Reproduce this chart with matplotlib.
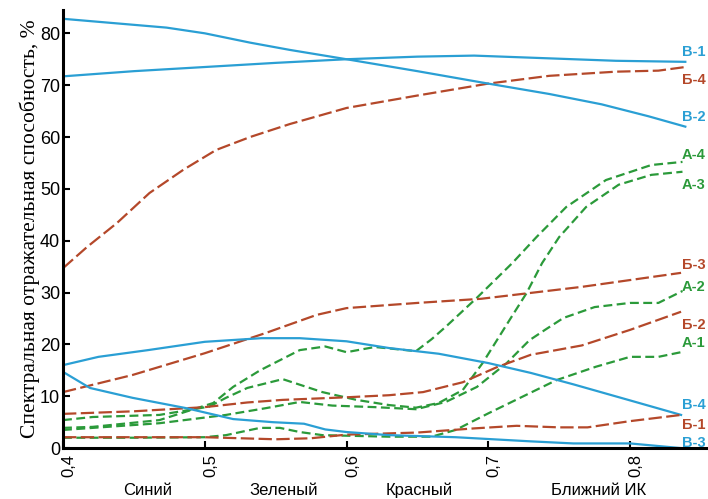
import numpy as np
import matplotlib.pyplot as plt
import matplotlib.transforms as mtransforms

plt.rcParams['font.family'] = ['Liberation Sans', 'DejaVu Sans']

# --- data (wavelength, um / reflectance, %) ---
a1_x = [0.40, 0.45, 0.50, 0.515, 0.539, 0.553, 0.567, 0.583, 0.63, 0.66, 0.677, 0.70, 0.724, 0.748, 0.776, 0.80, 0.82, 0.836]
a1_y = [2.0, 2.0, 2.1, 2.5, 3.9, 3.9, 3.1, 2.5, 2.2, 2.2, 3.5, 6.7, 9.9, 13.1, 15.7, 17.6, 17.6, 18.5]

a2_x = [0.40, 0.421, 0.468, 0.515, 0.543, 0.567, 0.59, 0.62, 0.649, 0.67, 0.692, 0.713, 0.729, 0.74, 0.753, 0.775, 0.80, 0.82, 0.837]
a2_y = [3.5, 3.9, 4.8, 6.4, 7.7, 8.9, 8.2, 7.9, 7.5, 8.9, 11.8, 16.4, 20.8, 22.8, 25.1, 27.2, 28.0, 28.0, 30.3]

a3_x = [0.40, 0.421, 0.468, 0.503, 0.515, 0.53, 0.555, 0.583, 0.607, 0.63, 0.649, 0.665, 0.682, 0.696, 0.715, 0.727, 0.738, 0.75, 0.769, 0.792, 0.815, 0.837]
a3_y = [5.4, 6.0, 6.4, 8.0, 9.7, 11.6, 13.3, 10.8, 9.3, 8.3, 7.8, 8.7, 11.2, 16.4, 24.7, 29.9, 35.7, 40.7, 46.5, 50.8, 52.7, 53.3]

a4_x = [0.40, 0.421, 0.468, 0.506, 0.52, 0.539, 0.567, 0.585, 0.60, 0.62, 0.649, 0.66, 0.67, 0.692, 0.717, 0.734, 0.755, 0.783, 0.815, 0.837]
a4_y = [3.9, 4.1, 5.4, 8.7, 11.8, 15.0, 18.9, 19.6, 18.5, 19.5, 18.7, 21.0, 23.4, 29.0, 35.7, 40.7, 46.5, 51.7, 54.6, 55.2]

b1_x = [0.40, 0.45, 0.50, 0.55, 0.575, 0.60, 0.65, 0.69, 0.72, 0.75, 0.77, 0.80, 0.836]
b1_y = [2.1, 2.1, 2.1, 1.7, 1.9, 2.6, 3.0, 3.8, 4.3, 4.0, 4.0, 5.2, 6.4]

b2_x = [0.40, 0.45, 0.50, 0.53, 0.555, 0.60, 0.63, 0.654, 0.682, 0.706, 0.73, 0.766, 0.80, 0.836]
b2_y = [6.6, 7.1, 7.9, 8.8, 9.3, 9.8, 10.2, 10.8, 12.7, 15.6, 18.0, 19.8, 22.8, 26.3]

b3_x = [0.40, 0.449, 0.50, 0.543, 0.579, 0.60, 0.65, 0.695, 0.766, 0.836]
b3_y = [10.8, 14.1, 18.3, 22.2, 25.7, 27.0, 28.0, 28.8, 31.1, 33.8]

b4_x = [0.40, 0.417, 0.438, 0.461, 0.485, 0.508, 0.532, 0.56, 0.60, 0.65, 0.70, 0.743, 0.79, 0.82, 0.839]
b4_y = [34.7, 38.8, 43.4, 49.2, 53.7, 57.5, 60.0, 62.5, 65.6, 68.0, 70.3, 71.8, 72.6, 72.8, 73.5]

v1_x = [0.40, 0.45, 0.50, 0.55, 0.60, 0.65, 0.69, 0.74, 0.79, 0.839]
v1_y = [71.7, 72.7, 73.5, 74.3, 75.0, 75.5, 75.7, 75.2, 74.7, 74.5]

v2_x = [0.40, 0.473, 0.50, 0.532, 0.56, 0.60, 0.65, 0.70, 0.743, 0.78, 0.813, 0.839]
v2_y = [82.8, 81.1, 80.0, 78.2, 76.8, 75.0, 72.7, 70.3, 68.3, 66.3, 64.0, 62.0]

v3_x = [0.40, 0.419, 0.449, 0.487, 0.52, 0.548, 0.57, 0.585, 0.60, 0.63, 0.677, 0.73, 0.76, 0.80, 0.836]
v3_y = [14.7, 11.6, 9.7, 7.7, 5.6, 5.0, 4.7, 3.6, 3.1, 2.5, 2.1, 1.3, 0.9, 0.9, 0.0]

v4_x = [0.40, 0.425, 0.46, 0.50, 0.54, 0.567, 0.60, 0.63, 0.665, 0.70, 0.73, 0.76, 0.80, 0.836]
v4_y = [16.0, 17.6, 18.9, 20.5, 21.2, 21.2, 20.6, 19.3, 18.2, 16.4, 14.5, 12.3, 9.2, 6.4]

names = ['В-1', 'Б-4', 'В-2', 'А-4', 'А-3', 'Б-3', 'А-2', 'Б-2', 'А-1', 'В-4', 'Б-1', 'В-3']

xticks = [0.4, 0.5, 0.6, 0.7, 0.8]
xtick_labels = ['0,4', '0,5', '0,6', '0,7', '0,8']
yticks = [0, 10, 20, 30, 40, 50, 60, 70, 80]

bands = ['Синий', 'Зеленый', 'Красный', 'Ближний ИК']

blue = '#2a9fd4'
brown = '#b4482a'
green = '#2b9a3a'

fig = plt.figure(figsize=(7.08, 4.99), dpi=100)
ax = fig.add_axes([0.089, 0.102, 0.911, 0.878])

long_dash = (0, (6, 2))
short_dash = (0, (4, 2))

lines = [(v1_x, v1_y, blue, '-'), (b4_x, b4_y, brown, long_dash), (v2_x, v2_y, blue, '-'),
         (a4_x, a4_y, green, short_dash), (a3_x, a3_y, green, short_dash),
         (b3_x, b3_y, brown, long_dash), (a2_x, a2_y, green, short_dash),
         (b2_x, b2_y, brown, long_dash), (a1_x, a1_y, green, short_dash),
         (v4_x, v4_y, blue, '-'), (b1_x, b1_y, brown, long_dash), (v3_x, v3_y, blue, '-')]

# label centres at the right edge (y in data units)
label_pos = [76.4, 71.0, 63.9, 56.6, 50.8, 35.3, 31.1, 23.7, 20.3, 8.3, 4.4, 1.0]

for name, (xs, ys, col, ls), ly in zip(names, lines, label_pos):
    ax.plot(xs, ys, color=col, linestyle=ls, linewidth=1.6)
    ax.text(0.8365, ly, name, color=col, fontsize=10.5, fontweight='bold',
            ha='left', va='center', clip_on=False)

ax.set_xlim(0.4, 0.855)
ax.set_ylim(0, 84.5)
ax.set_xticks(xticks)
ax.set_xticklabels(xtick_labels, rotation=90, fontsize=12)
ax.set_yticks(yticks)
ax.tick_params(axis='y', direction='in', length=5, width=1.5, labelsize=13, pad=2)
ax.tick_params(axis='x', direction='in', length=5, width=1.5, pad=4)

# x tick labels sit a little to the right of their ticks
shift = mtransforms.ScaledTranslation(6 / 100, 0, fig.dpi_scale_trans)
for lab in ax.get_xticklabels():
    lab.set_transform(lab.get_transform() + shift)

for s in ['top', 'right']:
    ax.spines[s].set_visible(False)
for s in ['left', 'bottom']:
    ax.spines[s].set_linewidth(2.2)

ax.set_ylabel('Спектральная отражательная способность, %',
              family=['Liberation Serif', 'DejaVu Serif'], fontsize=15.5, labelpad=0)

band_x = [0.46, 0.556, 0.651, 0.778]
for b, bx in zip(bands, band_x):
    ax.text(bx, -0.097, b, transform=ax.get_xaxis_transform(), ha='center', va='center',
            fontsize=12)

fig.savefig('out.png', dpi=100)
